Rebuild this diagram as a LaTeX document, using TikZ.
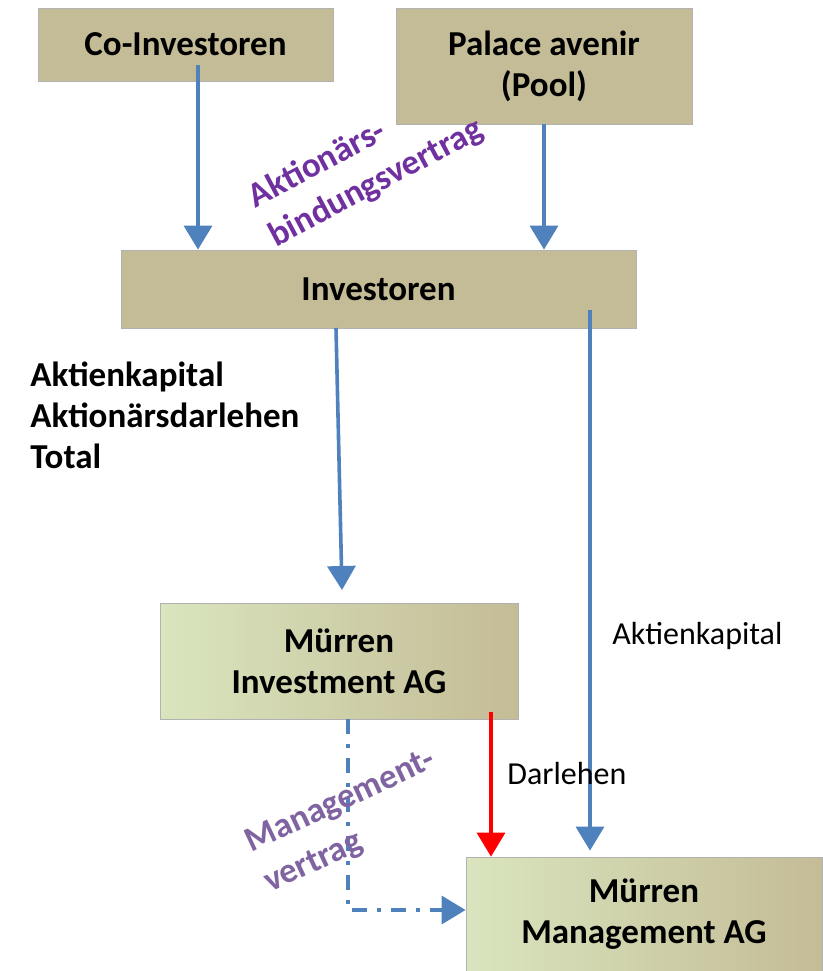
\documentclass[tikz,border=0pt]{standalone}
\usepackage{fontspec}
\setmainfont{Carlito}
\usetikzlibrary{arrows.meta,positioning}

\definecolor{tan}{HTML}{C4BC96}
\definecolor{lightgreen}{HTML}{D9E5BE}
\definecolor{flowblue}{HTML}{4F81BD}
\definecolor{contract}{HTML}{7030A0}
\definecolor{contractb}{HTML}{8064A2}

\begin{document}
\begin{tikzpicture}[
    x=1pt, y=-1pt,
    box/.style={draw=black!30, fill=tan, font=\fontsize{17.5}{20.5}\selectfont\bfseries, align=center, inner sep=0pt},
    agbox/.style={box, left color=lightgreen, right color=tan},
    flow/.style={draw=flowblue, line width=1.8pt, -{Triangle[width=14pt,length=12pt]}},
    loan/.style={flow, draw=red},
    mgmt/.style={flow, dash pattern=on 7.5pt off 5pt on 2pt off 5pt},
    label/.style={font=\fontsize{16}{19}\selectfont, inner sep=0pt, anchor=west},
    deal/.style={font=\fontsize{17.5}{22}\selectfont\bfseries, align=left, inner sep=0pt}
]
    \useasboundingbox (0,0) rectangle (411.5,485.5);

    \node[box, minimum width=147.5pt, minimum height=36.5pt] (coinv) at (92.75,22.25) {Co-Investoren};
    \node[box, minimum width=148pt, minimum height=58pt] (pool) at (272,33) {Palace avenir\\(Pool)};
    \node[box, minimum width=257.5pt, minimum height=39pt] (inv) at (189.25,144.5) {Investoren};
    \node[agbox, minimum width=179pt, minimum height=58pt] (mia) at (169.5,330.5) {Mürren\\Investment AG};
    \node[agbox, minimum width=178pt, minimum height=57pt] (mma) at (322,457) {Mürren\\Management AG};

    \coordinate (coinvout) at (99,32.5);
    \coordinate (invakt) at (295,155);
    \coordinate (invout) at (168,164);
    \coordinate (miain) at (171,295);
    \coordinate (mialoan) at (245.5,356);

    \draw[flow] (coinvout) -- (coinvout |- inv.north);
    \draw[flow] (pool.south) -- (pool.south |- inv.north);
    \draw[flow] (invout) -- (miain);
    \draw[flow, shorten >=3pt] (invakt) -- (invakt |- mma.north);
    \draw[loan] (mialoan) -- (mialoan |- mma.north);
    \draw[mgmt] ([xshift=4.5pt]mia.south) |- ([yshift=2pt]mma.west);

    \node[deal, text=contract, rotate=28] (abv) at (183,82) {Aktionärs-\\bindungsvertrag};
    \node[deal, text=contractb, rotate=25] (mv) at (175,411) {Management-\\vertrag};

    \node[label, font=\fontsize{17.5}{20.5}\selectfont\bfseries, align=left] (totals) at (15,207.5) {Aktienkapital\\Aktionärsdarlehen\\Total};
    \node[label] (akt) at (306,318) {Aktienkapital};
    \node[label] (darl) at (253.5,386.5) {Darlehen};
\end{tikzpicture}
\end{document}
